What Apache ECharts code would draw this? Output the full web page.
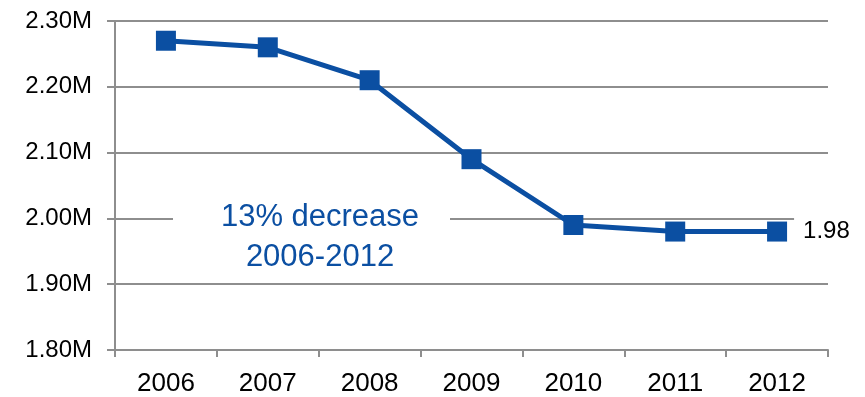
<!DOCTYPE html>
<html>
<head>
<meta charset="utf-8">
<script src="https://cdn.jsdelivr.net/npm/echarts@6/dist/echarts.min.js"></script>
<style>
  html, body { margin: 0; padding: 0; background: #fff; }
  #chart { width: 865px; height: 397px; }
</style>
</head>
<body>
<div id="chart"></div>
<script>
// Yearly totals, 2006-2012
const years = ['2006', '2007', '2008', '2009', '2010', '2011', '2012'];
const totals = [2270000, 2260000, 2210000, 2090000, 1990000, 1980000, 1980000];

// Value axis range
const yMin = 1800000;
const yMax = 2300000;
const yStep = 100000;

const noteLines = ['13% decrease', '2006-2012'];

const blue = '#0b4fa2';
const gridGray = '#8e8e8e';
const font = 'Liberation Sans, Arial, sans-serif';

// Only the final point carries a value label
const seriesData = totals.map((v, i) => {
  if (i !== totals.length - 1) return v;
  return {
    value: v,
    label: {
      show: true,
      formatter: p => (p.value / 1e6).toFixed(2),
      position: 'right',
      distance: 7,
      color: '#000',
      fontSize: 24,
      fontFamily: font,
      backgroundColor: '#fff',
      padding: [6, 4, 6, 9]
    }
  };
});

const chart = echarts.init(document.getElementById('chart'), null, { renderer: 'canvas' });

chart.setOption({
  animation: false,
  backgroundColor: '#fff',
  grid: { left: 115, right: 37, top: 21, bottom: 45, containLabel: false },
  xAxis: {
    type: 'category',
    data: years,
    boundaryGap: true,
    axisLine: { lineStyle: { color: gridGray, width: 2 } },
    axisTick: { show: true, length: 7, alignWithLabel: false, lineStyle: { color: gridGray, width: 2 } },
    axisLabel: { color: '#000', fontSize: 26, fontFamily: font, margin: 21 },
    splitLine: { show: false }
  },
  yAxis: {
    type: 'value',
    min: yMin,
    max: yMax,
    interval: yStep,
    axisLine: { show: true, lineStyle: { color: gridGray, width: 2 } },
    axisTick: { show: true, length: 8, lineStyle: { color: gridGray, width: 2 } },
    axisLabel: {
      color: '#000', fontSize: 24, fontFamily: font, margin: 23,
      formatter: v => (v / 1e6).toFixed(2) + 'M'
    },
    splitLine: { show: true, lineStyle: { color: gridGray, width: 2 } }
  },
  graphic: [
    {
      type: 'rect',
      shape: { x: 173, y: 198, width: 277, height: 78 },
      style: { fill: '#fff' },
      z: 50
    },
    {
      type: 'text',
      x: 320,
      y: 237,
      style: {
        text: noteLines.join('\n'),
        fill: blue,
        font: '31px ' + font,
        align: 'center',
        verticalAlign: 'middle',
        lineHeight: 40
      },
      z: 51
    }
  ],
  series: [{
    type: 'line',
    data: seriesData,
    symbol: 'rect',
    symbolSize: 20,
    lineStyle: { color: blue, width: 5 },
    itemStyle: { color: blue },
    z: 60,
    label: { show: false }
  }]
});
</script>
</body>
</html>
